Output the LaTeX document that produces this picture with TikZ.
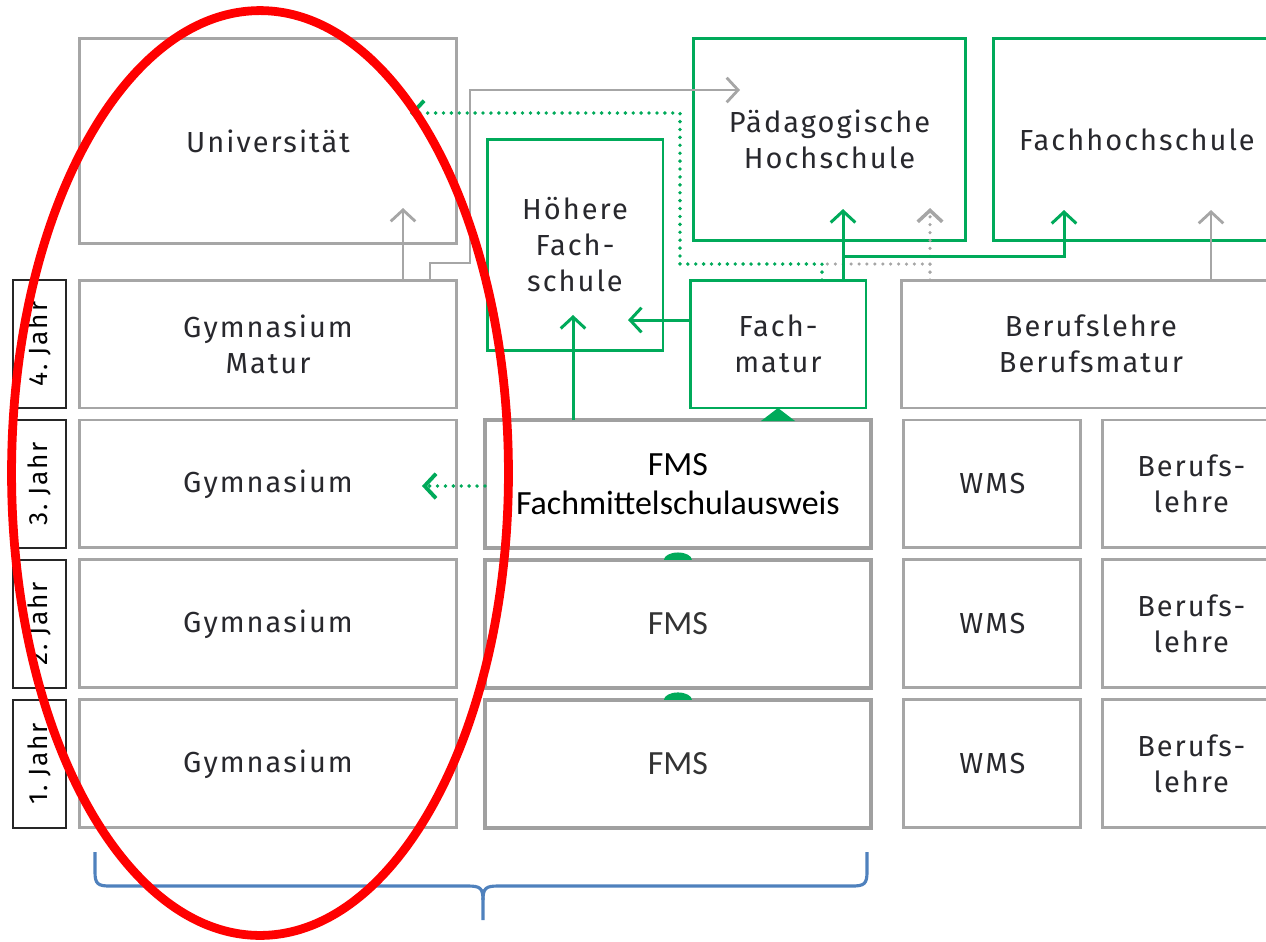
\documentclass[tikz,border=0pt]{standalone}
\usepackage{fontspec}
\setmainfont{Carlito}
\newfontfamily\dinfont[LetterSpace=7]{Fira Sans}
\usetikzlibrary{positioning,arrows.meta}
\definecolor{boxgray}{RGB}{166,166,166}
\definecolor{fmsgray}{RGB}{160,160,160}
\definecolor{swgreen}{RGB}{0,170,90}
\definecolor{txtgray}{RGB}{40,40,45}
\definecolor{bracebl}{RGB}{79,129,189}
\tikzset{
  box/.style={draw=boxgray,line width=1.7pt,outer sep=0pt,inner sep=0pt,align=center,
    text=txtgray,font=\dinfont\fontsize{16.5}{20.5}\selectfont},
  gbox/.style={box,draw=swgreen,line width=1.7pt},
  fbox/.style={draw=fmsgray,line width=1.9pt,outer sep=0pt,inner sep=0pt,align=center,
    minimum width=7.72cm,minimum height=2.56cm,text=black!80,font=\fontsize{19.3}{22}\selectfont},
  yr/.style={draw=black!85,line width=1.5pt,outer sep=0pt,inner sep=0pt,
    minimum width=1.06cm,minimum height=2.56cm,font=\dinfont\fontsize{15}{16}\selectfont},
  row/.style={minimum height=2.56cm},
  barb/.style={-{Straight Barb[length=6.5pt,width=14pt]}},
  grayln/.style={boxgray,line width=1.6pt},
  greenln/.style={swgreen,line width=1.7pt},
  gdots/.style={swgreen,line width=2.2pt,line cap=round,dash pattern=on 0pt off 4.5pt},
  ydots/.style={boxgray,line width=2pt,line cap=round,dash pattern=on 0pt off 4.5pt}
}

\begin{document}
\begin{tikzpicture}[x=0.02cm,y=-0.02cm,node distance=.24cm]
\useasboundingbox (0,0) rectangle (1266,941);
\clip (0,0) rectangle (1266,941);

\node[box,minimum width=7.56cm,minimum height=4.12cm] (univ) at (268,141) {Universität};
\node[box,row,minimum width=7.56cm] (gym4) at (268,344) {Gymnasium\\Matur};
\node[box,row,minimum width=7.56cm] (gym3) [below=of gym4] {Gymnasium};
\node[box,row,minimum width=7.56cm] (gym2) [below=of gym3] {Gymnasium};
\node[box,row,minimum width=7.56cm] (gym1) [below=of gym2] {Gymnasium};

\node[yr] (j4) [left=.26cm of gym4] {\rotatebox{90}{4.\ Jahr}};
\node[yr] (j3) [left=.26cm of gym3] {\rotatebox{90}{3.\ Jahr}};
\node[yr] (j2) [left=.26cm of gym2] {\rotatebox{90}{2.\ Jahr}};
\node[yr] (j1) [left=.26cm of gym1] {\rotatebox{90}{1.\ Jahr}};

\node[fbox,text=black] (fms3) [right=.56cm of gym3] {FMS\\Fachmittelschulausweis};
\node[fbox] (fms2) [below=of fms3] {FMS};
\node[fbox] (fms1) [below=of fms2] {FMS};

\node[box,row,minimum width=3.54cm] (wms3) [right=.66cm of fms3] {WMS};
\node[box,row,minimum width=3.54cm] (wms2) [below=of wms3] {WMS};
\node[box,row,minimum width=3.54cm] (wms1) [below=of wms2] {WMS};
\node[box,row,minimum width=3.54cm] (bl3) [right=.44cm of wms3] {Berufs-\\lehre};
\node[box,row,minimum width=3.54cm] (bl2) [below=of bl3] {Berufs-\\lehre};
\node[box,row,minimum width=3.54cm] (bl1) [below=of bl2] {Berufs-\\lehre};

\node[gbox,minimum width=3.52cm,minimum height=4.24cm] (hfs) at (575,245) {Höhere\\Fach-\\schule};
\node[gbox,minimum width=5.46cm,minimum height=4.06cm] (phs) at (829.5,139.5) {Pädagogische\\Hochschule};
\node[gbox,minimum width=5.72cm,minimum height=4.06cm] (fhs) [right=.56cm of phs] {Fachhochschule};
\node[gbox,row,minimum width=3.52cm] (fmat) at (778,344) {Fach-\\matur};
\node[box,row,minimum width=7.56cm] (bm) [right=.72cm of fmat] {Berufslehre\\Berufsmatur};

\draw[grayln,barb](gym4.north -| 403,0)--++(0,-72);
\draw[grayln,barb](gym4.north -| 430,0)|-(470,263)|-(740,90);
\draw[ydots](bm.north -| 930,0)|-(822,264);
\draw[ydots,barb](bm.north -| 930,0)--++(0,-72);
\draw[gdots,barb](fmat.north -| 822,0)|-(680,264)|-(410,113);
\draw[greenln,barb](fmat.north -| 843,0)--++(0,-71);
\draw[greenln,barb](843,256)-|(1064,210);
\draw[grayln,barb](bm.north -| 1211,0)--++(0,-70);
\draw[greenln,barb](fms3.north -| 573,0)--++(0,-105);
\draw[greenln,barb](fmat.west |- 0,320)--++(-62,0);
\draw[gdots,barb](fms3.west |- 0,486)--++(-63,0);

\fill[swgreen](fmat.south)++(-17,13)--++(17,-13)--++(17,13)--cycle;
\fill[swgreen](fms2.north)++(-14,0)arc[start angle=180,end angle=0,x radius=.28cm,y radius=.15cm]--cycle;
\fill[swgreen](fms1.north)++(-14,0)arc[start angle=180,end angle=0,x radius=.28cm,y radius=.15cm]--cycle;

\draw[bracebl,line width=1.8pt](95,852)--(95,872)..controls(95,884)and(98,886)..(110,886)
  --(468,886)..controls(480,886)and(483,888)..(483,900)--(483,920);
\draw[bracebl,line width=1.8pt](483,900)..controls(483,888)and(486,886)..(498,886)
  --(852,886)..controls(864,886)and(867,884)..(867,872)--(867,852);

\draw[red,line width=5pt](260,473)ellipse[x radius=4.97cm,y radius=9.25cm];
\end{tikzpicture}
\end{document}
